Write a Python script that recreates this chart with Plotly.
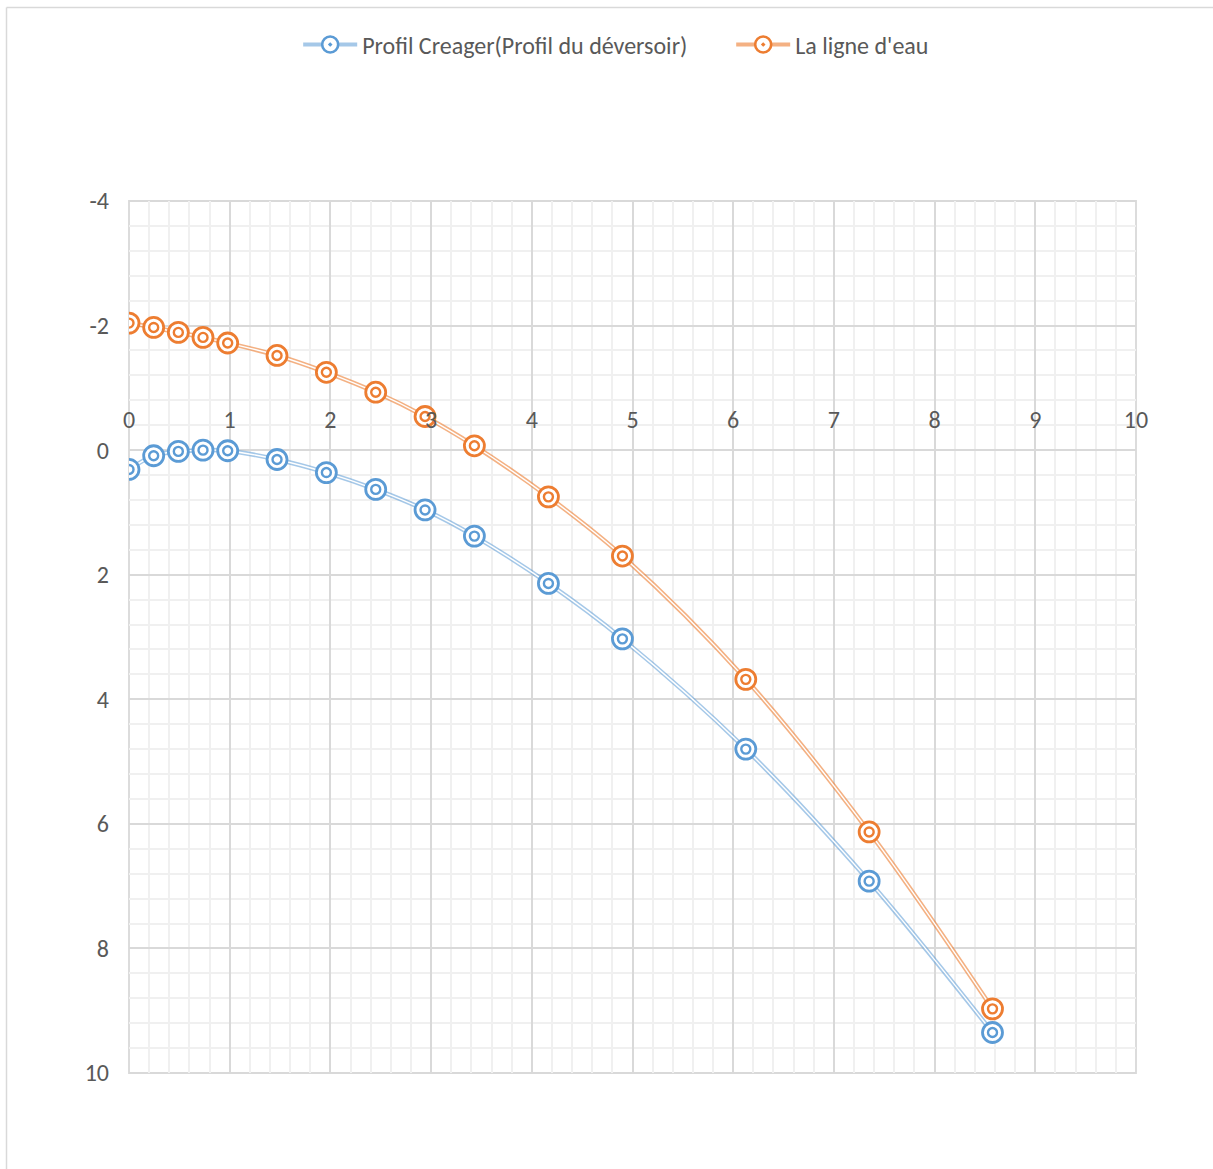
import plotly.graph_objects as go

# Horizontal distance x (m) shared by both curves
x_vals = [0.0, 0.245, 0.49, 0.735, 0.98, 1.47, 1.96, 2.45, 2.94, 3.43,
          4.165, 4.9, 6.125, 7.35, 8.575]

# Creager profile (spillway crest), depth below crest (m)
creager_y = [0.31, 0.09, 0.02, 0.0, 0.01, 0.15, 0.36, 0.63, 0.96, 1.38,
             2.14, 3.03, 4.80, 6.92, 9.35]

# Water surface line (m)
eau_y = [-2.04, -1.97, -1.89, -1.81, -1.72, -1.52, -1.25, -0.93, -0.54,
         -0.07, 0.75, 1.70, 3.68, 6.13, 8.97]

x_ticks = list(range(0, 11))
y_ticks = [-4, -2, 0, 2, 4, 6, 8, 10]
y_ticktext = [str(v) for v in y_ticks]

names = ["Profil Creager(Profil du déversoir)", "La ligne d'eau"]
colors = ["#5b9bd5", "#ed7d31"]
line_colors = ["rgba(91,155,213,0.55)", "rgba(237,125,49,0.6)"]
series = [creager_y, eau_y]

FONT = "Carlito, Lato, 'Open Sans', sans-serif"
TXT = "#595959"
MAJOR = "#d9d9d9"
MINOR = "#f0f0f0"

fig = go.Figure()

# double-stroke smoothed lines: colored band with a white core
for col, lcol, ys in zip(colors, line_colors, series):
    fig.add_trace(go.Scatter(x=x_vals, y=ys, mode="lines",
                             line=dict(color=lcol, width=4.5, shape="spline"),
                             showlegend=False, hoverinfo="skip"))
    fig.add_trace(go.Scatter(x=x_vals, y=ys, mode="lines",
                             line=dict(color="white", width=1.4, shape="spline"),
                             showlegend=False, hoverinfo="skip"))

# bullseye markers: white-filled outer ring plus a small inner ring
for name, col, ys in zip(names, colors, series):
    fig.add_trace(go.Scatter(x=x_vals, y=ys, mode="markers", name=name,
                             marker=dict(symbol="circle", size=20, color="white",
                                         line=dict(color=col, width=2.8)),
                             showlegend=False))
    fig.add_trace(go.Scatter(x=x_vals, y=ys, mode="markers",
                             marker=dict(symbol="circle-open", size=9, color=col,
                                         line=dict(color=col, width=2.4)),
                             showlegend=False, hoverinfo="skip"))

# legend entries
for name, col, lcol in zip(names, colors, line_colors):
    fig.add_trace(go.Scatter(x=[None], y=[None], mode="lines+markers", name=name,
                             line=dict(color=lcol, width=4),
                             marker=dict(symbol="circle-dot", size=17, color="white",
                                         line=dict(color=col, width=2.6))))

fig.update_layout(
    width=1213, height=1169,
    margin=dict(l=129, r=77, t=201, b=96),
    paper_bgcolor="white", plot_bgcolor="white",
    font=dict(family=FONT, size=24, color=TXT),
    showlegend=True,
    legend=dict(orientation="h", x=0.598, y=1.179, xanchor="center", yanchor="middle",
                font=dict(family=FONT, size=24, color=TXT),
                itemwidth=54, entrywidth=364, entrywidthmode="pixels",
                bgcolor="rgba(0,0,0,0)"),
    xaxis=dict(range=[0, 10], tickvals=x_ticks,
               showgrid=True, gridcolor=MAJOR, gridwidth=1.5,
               minor=dict(dtick=0.2, tick0=0, showgrid=True, gridcolor=MINOR, gridwidth=1.5),
               zeroline=False, showline=False, ticks="",
               side="top", anchor="free", position=(1073 - 450) / 872,
               ticklabelstandoff=17,
               tickfont=dict(family=FONT, size=24, color=TXT)),
    yaxis=dict(range=[10, -4], tickvals=y_ticks, ticktext=y_ticktext,
               showgrid=True, gridcolor=MAJOR, gridwidth=1.5,
               minor=dict(dtick=0.4, tick0=0, showgrid=True, gridcolor=MINOR, gridwidth=1.5),
               zeroline=False, showline=False, ticks="",
               ticklabelstandoff=19,
               tickfont=dict(family=FONT, size=24, color=TXT)),
    shapes=[
        # plot frame
        dict(type="rect", xref="x domain", yref="y domain", x0=0, y0=0, x1=1, y1=1,
             line=dict(color=MAJOR, width=1.8), layer="below"),
        # chart area border (top and left edges)
        dict(type="line", xref="paper", yref="paper",
             x0=(6.5 - 129) / 1007, x1=1.2, y0=(1073 - 7.5) / 872, y1=(1073 - 7.5) / 872,
             line=dict(color="#d9d9d9", width=1.5)),
        dict(type="line", xref="paper", yref="paper",
             x0=(6.5 - 129) / 1007, x1=(6.5 - 129) / 1007,
             y0=-0.3, y1=(1073 - 7.5) / 872,
             line=dict(color="#d9d9d9", width=1.5)),
    ],
)

fig.write_html("out.html")
